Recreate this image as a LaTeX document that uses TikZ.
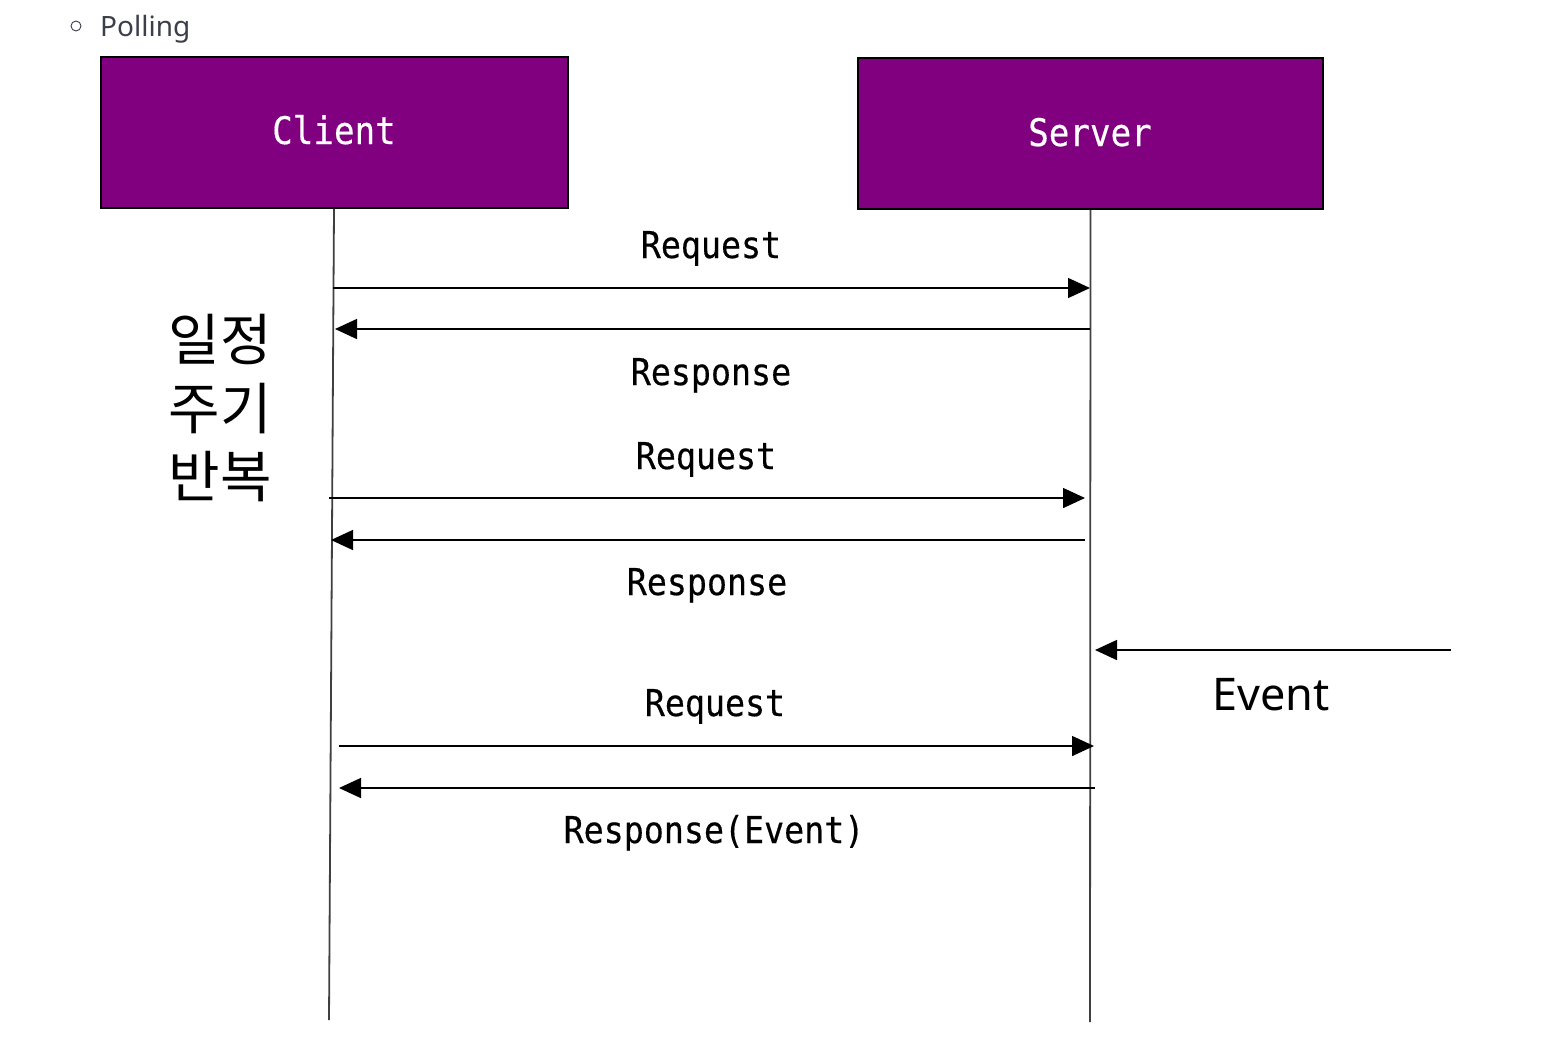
\documentclass[tikz,border=0pt]{standalone}
\usepackage{fontspec}
\usetikzlibrary{arrows.meta}
\setmainfont{Noto Sans}
\newfontfamily\monof[FakeStretch=0.9,FakeBold=0.4]{DejaVu Sans Mono}
\newfontfamily\kor{Noto Sans CJK KR}
\definecolor{boxpurple}{HTML}{800080}
\definecolor{headgray}{HTML}{3A3F4A}
\tikzset{
  actor/.style={draw=black, line width=2pt, fill=boxpurple, minimum width=#1, minimum height=151pt, inner sep=0pt},
  actortext/.style={text=white, font=\monof\fontsize{38}{44}\selectfont, anchor=base},
  lifeline/.style={draw=black!75, line width=1.8pt},
  msg/.style={draw=black, line width=1.5pt, -{Triangle[length=22pt,width=20pt]}},
  msglabel/.style={font=\monof\fontsize{37}{44}\selectfont, anchor=base, inner sep=0pt},
  kortext/.style={font=\kor\fontsize{56}{64}\selectfont, anchor=base, inner sep=0pt}
}
\begin{document}
\begin{tikzpicture}[x=1pt,y=-1pt]
\useasboundingbox (0,0) rectangle (1562,1042);
% heading
\node[draw=headgray, line width=0.9pt, circle, minimum size=10pt, inner sep=0pt] (bullet) at (76,26) {};
\node[font=\fontsize{28}{34}\selectfont, text=headgray, anchor=base west, inner sep=0pt] (head) at (100,36) {Polling};
% actors
\node[actor=467pt] (client) at (334,132) {};
\node[actortext] (clientt) at (334,144) {Client};
\node[actor=465pt] (server) at (1090.5,133.5) {};
\node[actortext] (servert) at (1090,146) {Server};
% lifeline ends
\coordinate (cend) at (329,1020);
\coordinate (send) at (1090,1022);
\draw[lifeline] (client.south) -- (cend);
\draw[lifeline] (server.south) -- (send);
% message endpoints
\coordinate (c1) at (333,288);  \coordinate (s1) at (1090,288);
\coordinate (s2) at (1090,329); \coordinate (c2) at (335,329);
\coordinate (c3) at (329,498);  \coordinate (s3) at (1085,498);
\coordinate (s4) at (1085,540); \coordinate (c4) at (331,540);
\coordinate (e0) at (1451,650); \coordinate (s5) at (1095,650);
\coordinate (c6) at (339,746);  \coordinate (s6) at (1094,746);
\coordinate (s7) at (1095,788); \coordinate (c7) at (339,788);
\draw[msg] (c1) -- (s1);
\draw[msg] (s2) -- (c2);
\draw[msg] (c3) -- (s3);
\draw[msg] (s4) -- (c4);
\draw[msg] (e0) -- (s5);
\draw[msg] (c6) -- (s6);
\draw[msg] (s7) -- (c7);
% labels
\node[msglabel] (l1) at (711,258) {Request};
\node[msglabel] (l2) at (711,385) {Response};
\node[msglabel] (l3) at (706,469) {Request};
\node[msglabel] (l4) at (707,595) {Response};
\node[msglabel] (l6) at (715,716) {Request};
\node[msglabel] (l7) at (714,843) {Response(Event)};
\node[font=\fontsize{45}{54}\selectfont, anchor=base, inner sep=0pt] (ev) at (1271,710) {Event};
% korean
\node[kortext] (k1) at (220,360) {일정};
\node[kortext] (k2) at (220,429) {주기};
\node[kortext] (k3) at (220,497) {반복};
\end{tikzpicture}
\end{document}
